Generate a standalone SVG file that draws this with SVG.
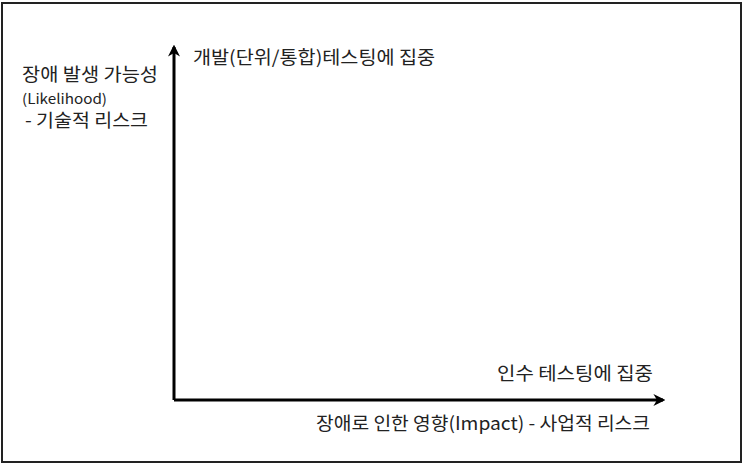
<svg xmlns="http://www.w3.org/2000/svg" width="743" height="464" viewBox="0 0 743 464">
<style>
.t{font-family:"Noto Sans CJK KR","Noto Sans",sans-serif;fill:#222;}
.big{font-size:18px;}
.sm{font-size:14px;}
.ax{stroke:#000;stroke-width:3;fill:none;}
</style>
<defs>
<marker id="ah" viewBox="0 0 10 10" refX="8" refY="5" markerWidth="4" markerHeight="4" orient="auto" markerUnits="strokeWidth">
<path d="M0,0 L10,5 L0,10 L3,5 Z" fill="#000"/>
</marker>
</defs>
<rect x="2" y="3" width="739" height="459" fill="#fff" stroke="#222" stroke-width="2"/>
<g id="connectors">
<path class="ax" d="M174,400 L174,47" marker-end="url(#ah)"/>
<path class="ax" d="M174,400 L663,400" marker-end="url(#ah)"/>
</g>
<g id="y-label">
<text class="t big" x="22" y="81" textLength="136" lengthAdjust="spacingAndGlyphs">장애 발생 가능성</text>
<text class="t sm" x="22" y="104" textLength="85" lengthAdjust="spacingAndGlyphs">(Likelihood)</text>
<text class="t big" x="25" y="127" textLength="123" lengthAdjust="spacingAndGlyphs">- 기술적 리스크</text>
</g>
<g id="top-note">
<text class="t big" x="193" y="64" textLength="242" lengthAdjust="spacingAndGlyphs">개발(단위/통합)테스팅에 집중</text>
</g>
<g id="right-note">
<text class="t big" x="497" y="380" textLength="156" lengthAdjust="spacingAndGlyphs">인수 테스팅에 집중</text>
</g>
<g id="x-label">
<text class="t big" x="316" y="430" textLength="334" lengthAdjust="spacingAndGlyphs">장애로 인한 영향(Impact) - 사업적 리스크</text>
</g>
</svg>
